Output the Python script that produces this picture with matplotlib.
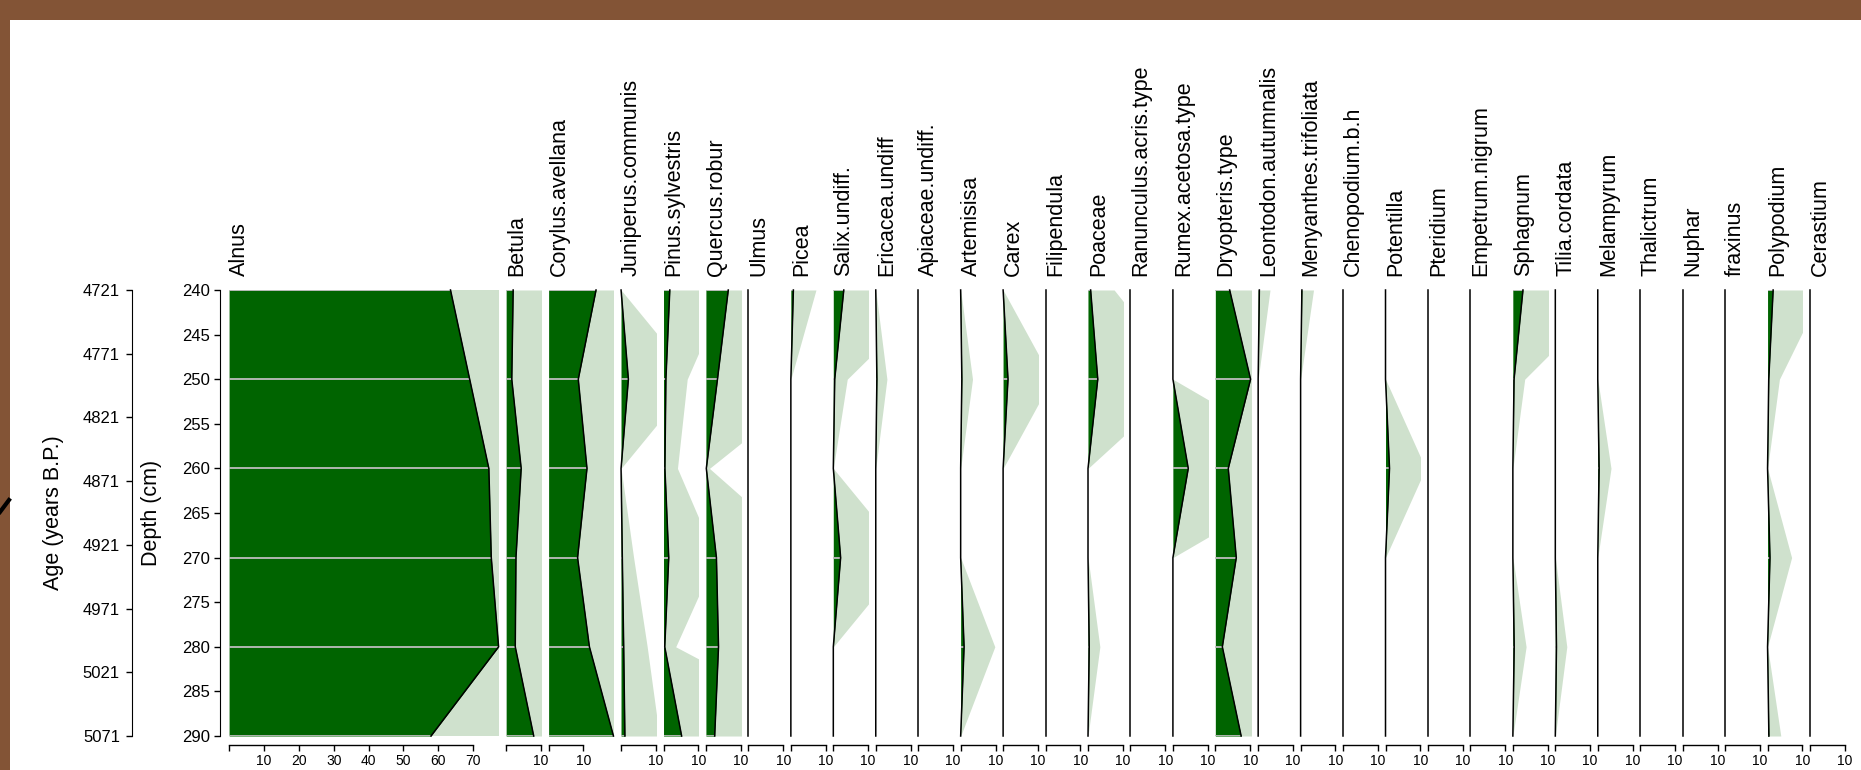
import numpy as np
import matplotlib
matplotlib.use("Agg")
import matplotlib.pyplot as plt
from matplotlib.patches import Rectangle
from matplotlib.lines import Line2D

plt.rcParams["font.family"] = ["Liberation Sans", "DejaVu Sans"]

# sample depths (cm) and age axis ticks
depths = [240, 250, 260, 270, 280, 290]
age_ticks = [4721, 4771, 4821, 4871, 4921, 4971, 5021, 5071]
depth_ticks = [240, 245, 250, 255, 260, 265, 270, 275, 280, 285, 290]

# percentages per taxon, one value per depth
alnus = [63.5, 69.0, 74.5, 75.2, 77.3, 57.9]
betula = [2.0, 1.6, 4.3, 2.8, 2.6, 7.9]
corylus = [13.6, 8.5, 11.0, 8.3, 11.7, 18.6]
juniperus = [0, 2.1, 0, 0.36, 0.75, 1.1]
pinus = [1.8, 0.68, 0.4, 1.5, 0.35, 5.2]
quercus = [6.4, 3.3, 0.1, 3.0, 3.6, 2.5]
ulmus = [0, 0, 0, 0, 0, 0]
picea = [0.72, 0, 0, 0, 0, 0]
salix = [3.0, 0.4, 0, 2.1, 0, 0]
ericacea = [0, 0.32, 0, 0, 0, 0]
apiaceae = [0, 0, 0, 0, 0, 0]
artemisia = [0, 0.34, 0, 0, 0.98, 0]
carex = [0, 1.4, 0, 0, 0, 0]
filipendula = [0, 0, 0, 0, 0, 0]
poaceae = [0.75, 2.8, 0, 0, 0.34, 0]
ranunculus = [0, 0, 0, 0, 0, 0]
rumex = [0, 0, 4.4, 0, 0, 0]
dryopteris = [4.1, 10.1, 3.7, 6.0, 2.0, 7.4]
leontodon = [0.34, 0, 0, 0, 0, 0]
menyanthes = [0.37, 0, 0, 0, 0, 0]
chenopodium = [0, 0, 0, 0, 0, 0]
potentilla = [0, 0, 1.15, 0, 0, 0]
pteridium = [0, 0, 0, 0, 0, 0]
empetrum = [0, 0, 0, 0, 0, 0]
sphagnum = [2.9, 0.34, 0, 0, 0.38, 0]
tilia = [0, 0, 0, 0, 0.33, 0]
melampyrum = [0, 0, 0.38, 0, 0, 0]
thalictrum = [0, 0, 0, 0, 0, 0]
nuphar = [0, 0, 0, 0, 0, 0]
fraxinus = [0, 0, 0, 0, 0, 0]
polypodium = [1.6, 0.34, 0, 0.69, 0, 0.38]
cerastium = [0, 0, 0, 0, 0, 0]

taxa = [
    ("Alnus", alnus), ("Betula", betula), ("Corylus.avellana", corylus),
    ("Juniperus.communis", juniperus), ("Pinus.sylvestris", pinus),
    ("Quercus.robur", quercus), ("Ulmus", ulmus), ("Picea", picea),
    ("Salix.undiff.", salix), ("Ericacea.undiff", ericacea),
    ("Apiaceae.undiff.", apiaceae), ("Artemisisa", artemisia), ("Carex", carex),
    ("Filipendula", filipendula), ("Poaceae", poaceae),
    ("Ranunculus.acris.type", ranunculus), ("Rumex.acetosa.type", rumex),
    ("Dryopteris.type", dryopteris), ("Leontodon.autumnalis", leontodon),
    ("Menyanthes.trifoliata", menyanthes), ("Chenopodium.b.h", chenopodium),
    ("Potentilla", potentilla), ("Pteridium", pteridium),
    ("Empetrum.nigrum", empetrum), ("Sphagnum", sphagnum),
    ("Tilia.cordata", tilia), ("Melampyrum", melampyrum),
    ("Thalictrum", thalictrum), ("Nuphar", nuphar), ("fraxinus", fraxinus),
    ("Polypodium", polypodium), ("Cerastium", cerastium),
]

exag = 10
dark = "#006400"
light = "#cfe1cd"
bar_col = "#bdbdbd"

W, H = 1861, 770
fig = plt.figure(figsize=(W / 100, H / 100), dpi=100, facecolor="#835436")


def fx(px):
    return px / W


def fy(py):
    return 1 - py / H


# white window area on brown background
fig.patches.append(Rectangle((fx(10), 0), 1 - fx(10), fy(20), transform=fig.transFigure,
                             facecolor="white", edgecolor="none", zorder=-1))
fig.lines.append(Line2D([0, fx(9)], [fy(512), fy(500)], transform=fig.transFigure,
                        color="black", lw=3))

top_px, bot_px = 290, 736
ph = (bot_px - top_px) / H
ppu = 3.485      # pixels per percent
gap = 7.6
xpos = 229.2

for name, vals in taxa:
    v = np.array(vals, dtype=float)
    width = max(10, v.max())
    wpx = width * ppu
    ax = fig.add_axes([fx(xpos), fy(bot_px), wpx / W, ph])
    ax.set_xlim(0, width)
    ax.set_ylim(290, 240)
    ax.patch.set_visible(False)
    ax.fill_betweenx(depths, 0, v * exag, color=light, lw=0)
    ax.fill_betweenx(depths, 0, v, color=dark, lw=0)
    d = np.array(depths)
    m = v > 0
    ax.hlines(d[m], 0, v[m], color=bar_col, lw=1.3)
    ax.plot(v, depths, color="black", lw=1.1, clip_on=False)

    for s in ["top", "right", "left"]:
        ax.spines[s].set_visible(False)
    ticks = np.arange(0, width + 1e-9, 10)
    ax.set_xticks(ticks)
    ax.set_xticklabels(["" if t == 0 else str(int(t)) for t in ticks])
    ax.spines["bottom"].set_position(("outward", 6.5))
    ax.spines["bottom"].set_bounds(0, ticks[-1])
    ax.spines["bottom"].set_linewidth(1.0)
    ax.tick_params(axis="x", direction="out", length=4.5, width=1.0, labelsize=10, pad=2)
    ax.set_yticks([])

    fig.text(fx(xpos), fy(276), name, rotation=90, ha="left", va="bottom", fontsize=15.5)
    xpos += wpx + gap

# depth axis
axd = fig.add_axes([fx(219.8), fy(bot_px), 0.0005, ph])
axd.set_ylim(290, 240)
axd.patch.set_visible(False)
for s in ["top", "right", "bottom"]:
    axd.spines[s].set_visible(False)
axd.set_xticks([])
axd.set_yticks(depth_ticks)
axd.tick_params(axis="y", length=4.5, width=1.0, labelsize=12, pad=2.5)

# age axis
axa = fig.add_axes([fx(132.4), fy(bot_px), 0.0005, ph])
axa.set_ylim(age_ticks[-1], age_ticks[0])
axa.patch.set_visible(False)
for s in ["top", "right", "bottom"]:
    axa.spines[s].set_visible(False)
axa.set_xticks([])
axa.set_yticks(age_ticks)
axa.tick_params(axis="y", length=4.5, width=1.0, labelsize=12, pad=4.5)

fig.text(fx(54), fy(513), "Age (years B.P.)", rotation=90, ha="center", va="center", fontsize=15.5)
fig.text(fx(152), fy(513), "Depth (cm)", rotation=90, ha="center", va="center", fontsize=15.5)

fig.savefig("out.png", dpi=100, facecolor=fig.get_facecolor())
